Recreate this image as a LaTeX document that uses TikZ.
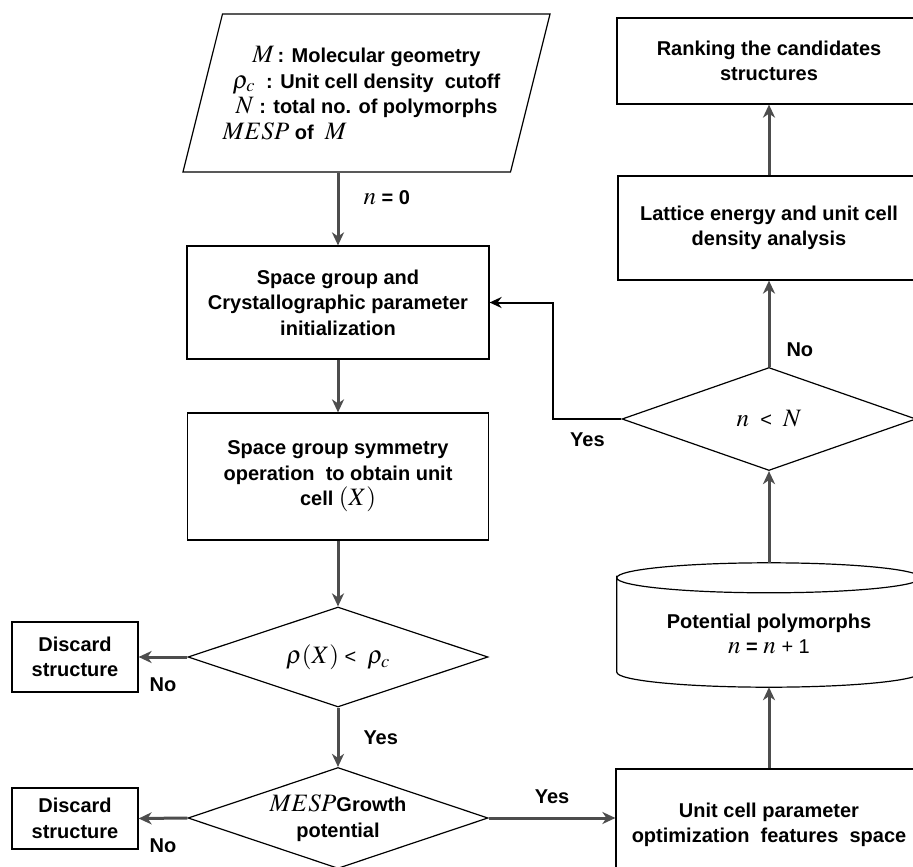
\documentclass[tikz,border=0pt]{standalone}
\usepackage{mathptmx}
\usepackage{fontspec}
\setmainfont{Liberation Sans}
\usetikzlibrary{shapes.geometric,arrows.meta}
\definecolor{flowgray}{RGB}{77,77,77}
\newcommand{\flowfont}{\fontsize{20}{25.5}\selectfont\bfseries}
\newcommand{\mv}[1]{{\fontsize{25}{25.5}\selectfont$#1$}}
\tikzset{
  block/.style={draw, line width=1.2pt, rectangle, align=center, inner sep=0pt, font=\flowfont},
  decision/.style={draw, line width=1.2pt, diamond, aspect=3, align=center, inner sep=0pt, font=\flowfont},
  io/.style={draw, line width=1.2pt, trapezium, trapezium left angle=67, trapezium right angle=113,
    trapezium stretches=true, align=center, inner sep=0pt, font=\flowfont},
  flow/.style={draw=flowgray, line width=3pt, -{Stealth[length=13pt,width=12pt,inset=4pt]}},
  loopback/.style={draw=black, line width=2pt, -{Stealth[length=12pt,width=11pt,inset=4pt]}},
  lbl/.style={inner sep=0pt, font=\flowfont}
}
\begin{document}
\begin{tikzpicture}[x=1pt, y=-1pt]
  \useasboundingbox (0,0) rectangle (913,867);
  \clip (0,0) rectangle (913,867);
  % left column
  \node[io, minimum width=363pt, minimum height=158pt] (in) at (366.5,93)
    {\mv{M}\,: Molecular geometry\\ \mv{\rho_c}\ \ : Unit cell density\ \ cutoff\\
     \mv{N}\ : total no. of polymorphs\\ \makebox[288pt][l]{\mv{MESP}\ of\ \ \mv{M}}};
  \node[block, minimum width=302pt, minimum height=113pt] (init) at (338,302.5)
    {Space group and\\ Crystallographic parameter\\ initialization};
  \node[block, minimum width=301pt, minimum height=127pt] (symop) at (338,476.5)
    {Space group symmetry\\ operation\ \ to obtain unit\\ cell \mv{(X)}};
  \node[decision, minimum width=300pt, minimum height=100pt] (dens) at (338,657)
    {\mv{\rho(X)}\ {\mdseries <}\ \ \mv{\rho_c}};
  \node[decision, minimum width=300pt, minimum height=101pt] (mesp) at (338,818)
    {\mv{MESP}Growth\\ potential};
  \node[block, minimum width=126pt, minimum height=70pt] (discA) at (75,657) {Discard\\ structure};
  \node[block, minimum width=126pt, minimum height=61pt] (discB) at (75,818.5) {Discard\\ structure};
  % right column
  \node[block, minimum width=306pt, minimum height=112pt] (opt) at (769,825)
    {Unit cell parameter\\ optimization\ \ features\ \ space};
  \node[inner sep=0pt, minimum width=304pt, minimum height=124pt] (pool) at (769,625) {};
  \draw[line width=1.2pt] ([yshift=-15pt]pool.north west)
      arc[start angle=180, end angle=-180, x radius=152pt, y radius=15pt]
    -- ([yshift=15pt]pool.south west)
      arc[start angle=180, end angle=360, x radius=152pt, y radius=15pt]
    -- ([yshift=-15pt]pool.north east);
  \node[lbl, align=center] (poolText) at (769,634) {Potential polymorphs\\ \mv{n} = \mv{n} {\mdseries + 1}};
  \node[decision, minimum width=294pt, minimum height=103pt] (count) at (769,419)
    {\mv{n}\ \ {\mdseries <}\ \ \mv{N}};
  \node[block, minimum width=302pt, minimum height=104pt] (lattice) at (769,228)
    {Lattice energy and unit cell\\ density analysis};
  \node[block, minimum width=304pt, minimum height=86pt] (rank) at (769,61)
    {Ranking the candidates\\ structures};
  \begin{scope}[flow]
    \draw (in.south -| init.north) -- node[lbl, right=24pt, pos=0.34] {\mv{n} = 0} (init.north);
    \draw (init) -- (symop);
    \draw (symop) -- (dens);
    \draw (dens.west) -- node[lbl, below=19pt] {No} (discA.east);
    \draw (dens.south) -- node[lbl, right=24pt] {Yes} (mesp.north);
    \draw (mesp.west) -- node[lbl, below=19pt] {No} (discB.east);
    \draw (mesp.east) -- node[lbl, above=13pt] {Yes} (opt.west |- mesp.east);
    \draw (opt.north) -- (pool.south);
    \draw (pool.north) -- (count.south);
    \draw (count.north) -- node[lbl, right=16pt, pos=0.2] {No} (lattice.south);
    \draw (lattice.north) -- (rank.south);
  \end{scope}
  \draw[loopback] (count.west) -- node[lbl, below=13pt] {Yes} ++(-68,0) |- (init.east);
\end{tikzpicture}
\end{document}
